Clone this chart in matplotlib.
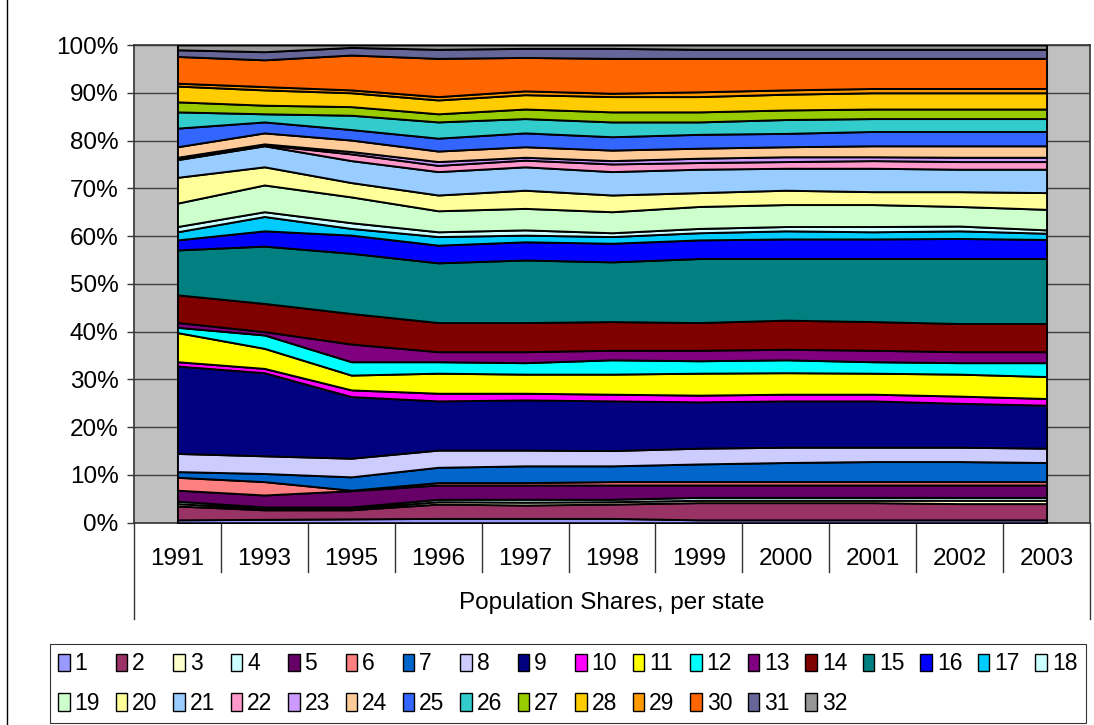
import numpy as np
import matplotlib
matplotlib.use("Agg")
import matplotlib.pyplot as plt
from matplotlib.patches import Patch
import matplotlib.transforms as mtransforms

plt.rcParams["font.family"] = ["Liberation Sans", "DejaVu Sans"]

years = ["1991", "1993", "1995", "1996", "1997", "1998", "1999", "2000", "2001", "2002", "2003"]
states = [str(i) for i in range(1, 33)]

# population share (%) of states 1..32, one list per year
y1991 = [0.6, 2.9, 0.5, 0.5, 2.3, 2.7, 1.2, 3.8, 18.3, 0.9, 6.1, 1.1, 1.0, 5.8, 9.4, 2.1,
         1.7, 1.1, 4.9, 5.4, 3.7, 0.3, 0.2, 2.2, 3.9, 3.4, 2.1, 3.3, 0.6, 5.6, 1.4, 1.0]
y1993 = [0.7, 2.0, 0.3, 0.3, 2.5, 2.8, 1.7, 3.7, 17.4, 0.9, 4.2, 2.8, 0.7, 5.9, 12.0, 3.2,
         3.0, 1.0, 5.6, 3.8, 4.4, 0.2, 0.2, 2.3, 2.3, 1.7, 1.8, 3.2, 0.7, 5.6, 1.7, 1.4]
y1995 = [0.8, 1.9, 0.3, 0.3, 3.4, 0.1, 2.8, 3.9, 12.9, 1.4, 3.1, 2.8, 3.7, 6.4, 12.6, 3.8,
         1.4, 1.2, 5.4, 3.0, 4.6, 1.4, 0.5, 2.4, 2.2, 3.0, 1.8, 2.9, 0.6, 7.3, 1.6, 0.5]
y1996 = [0.9, 3.0, 0.5, 0.5, 3.0, 0.5, 3.2, 3.6, 10.3, 1.6, 4.2, 2.4, 2.1, 6.1, 12.5, 3.7,
         1.8, 1.0, 4.4, 3.3, 4.9, 1.3, 0.8, 2.2, 2.7, 3.4, 1.7, 2.9, 0.7, 8.0, 1.9, 0.9]
y1997 = [0.9, 2.8, 0.6, 0.6, 3.0, 0.5, 3.5, 3.3, 10.5, 1.4, 4.0, 2.4, 2.3, 6.1, 13.1, 3.8,
         1.4, 1.1, 4.5, 3.8, 4.9, 1.4, 0.6, 2.2, 2.9, 3.0, 2.0, 3.0, 0.8, 7.0, 1.9, 0.7]
y1998 = [0.9, 3.0, 0.5, 0.5, 3.0, 0.7, 3.3, 3.2, 10.4, 1.4, 4.2, 3.0, 2.0, 6.0, 12.5, 3.9,
         1.4, 0.8, 4.4, 3.5, 4.9, 1.6, 0.7, 2.2, 2.8, 3.1, 2.1, 3.2, 0.7, 7.3, 2.1, 0.7]
y1999 = [0.6, 3.6, 0.5, 0.6, 2.6, 0.7, 3.7, 3.3, 9.7, 1.4, 4.6, 2.6, 2.2, 5.8, 13.4, 3.9,
         1.5, 0.9, 4.6, 2.9, 4.9, 1.4, 0.9, 2.1, 2.9, 2.6, 2.1, 3.2, 1.0, 7.0, 1.9, 0.9]
y2000 = [0.6, 3.6, 0.5, 0.6, 2.6, 0.7, 4.0, 3.2, 9.7, 1.4, 4.5, 2.7, 2.2, 6.1, 12.9, 4.1,
         1.7, 0.9, 4.6, 3.0, 4.6, 1.4, 1.0, 2.1, 2.8, 2.9, 2.0, 3.3, 0.9, 6.6, 1.9, 0.9]
y2001 = [0.6, 3.6, 0.5, 0.6, 2.6, 0.7, 4.2, 3.0, 9.7, 1.4, 4.4, 2.4, 2.4, 6.0, 13.2, 4.1,
         1.5, 1.1, 4.6, 2.7, 4.9, 1.6, 0.8, 2.3, 3.0, 2.7, 2.0, 3.4, 0.9, 6.3, 1.9, 0.9]
y2002 = [0.6, 3.4, 0.7, 0.6, 2.6, 0.7, 4.2, 3.0, 9.2, 1.5, 4.6, 2.4, 2.3, 5.9, 13.6, 4.2,
         1.6, 1.0, 4.1, 3.1, 4.7, 1.6, 0.9, 2.4, 3.0, 2.7, 2.0, 3.4, 0.9, 6.3, 1.9, 0.9]
y2003 = [0.6, 3.4, 0.7, 0.6, 2.6, 0.7, 4.0, 3.0, 9.0, 1.4, 4.6, 2.9, 2.3, 5.9, 13.6, 4.0,
         1.3, 0.7, 4.3, 3.5, 4.9, 1.6, 0.9, 2.4, 3.0, 2.7, 2.0, 3.4, 0.9, 6.3, 1.9, 0.9]

colors = ["#9999FF", "#993366", "#FFFFCC", "#CCFFFF", "#660066", "#FF8080", "#0066CC", "#CCCCFF",
          "#000080", "#FF00FF", "#FFFF00", "#00FFFF", "#800080", "#800000", "#008080", "#0000FF",
          "#00CCFF", "#CCFFFF", "#CCFFCC", "#FFFF99", "#99CCFF", "#FF99CC", "#CC99FF", "#FFCC99",
          "#3366FF", "#33CCCC", "#99CC00", "#FFCC00", "#FF9900", "#FF6600", "#666699", "#969696"]

data = np.array([y1991, y1993, y1995, y1996, y1997, y1998, y1999, y2000, y2001, y2002, y2003]).T
data = data / data.sum(axis=0) * 100  # 100% stacked
x = np.arange(len(years))

W, H = 1094, 725
fig = plt.figure(figsize=(W / 100, H / 100), dpi=100)
left, right, top, bottom = 134, 1090, 45, 522.7
ax = fig.add_axes([left / W, 1 - bottom / H, (right - left) / W, (bottom - top) / H])
ax.set_facecolor("#C0C0C0")

polys = ax.stackplot(x, data, colors=colors, edgecolor="black", linewidth=1.4, zorder=3)

ax.set_xlim(-0.5, len(years) - 0.5)
ax.set_ylim(0, 100)
ax.set_yticks(np.arange(0, 101, 10))
ax.set_yticklabels([f"{v}%" for v in range(0, 101, 10)], fontsize=17.5)
ax.yaxis.grid(True, color="#404040", linewidth=1.0, zorder=1)
ax.set_axisbelow(True)
ax.tick_params(axis="y", length=5, width=1, pad=6, colors="#333333", labelcolor="black")

ax.set_xticks(x)
ax.set_xticklabels(years, fontsize=17.5)
ax.tick_params(axis="x", length=0, pad=18)

for s in ax.spines.values():
    s.set_color("#333333")
    s.set_linewidth(1.2)

# category dividers and outer level lines
trans = mtransforms.blended_transform_factory(ax.transData, ax.transAxes)
h_px = bottom - top
for b in np.arange(0.5, len(years) - 0.5, 1):
    ax.plot([b, b], [0, -(572 - bottom) / h_px], transform=trans, color="#333333",
            linewidth=1.0, clip_on=False)
for b in [-0.5, len(years) - 0.5]:
    ax.plot([b, b], [0, -(619 - bottom) / h_px], transform=trans, color="#333333",
            linewidth=1.0, clip_on=False)
ax.text(0.5, -(603 - bottom) / h_px, "Population Shares, per state", transform=ax.transAxes,
        ha="center", va="center", fontsize=17.5)

# legend, filled row by row
handles = [Patch(facecolor=c, edgecolor="black", linewidth=1.0) for c in colors]
order = []
for j in range(18):
    order.append(j)
    if j + 18 < 32:
        order.append(j + 18)
leg = fig.legend([handles[i] for i in order], [states[i] for i in order], ncol=18,
                 loc="upper left", bbox_to_anchor=(50 / W, 1 - 644 / H), fontsize=16.5,
                 handlelength=0.5, handleheight=0.8, handletextpad=0.22, columnspacing=0.68,
                 labelspacing=0.72, borderpad=0.36, borderaxespad=0, fancybox=False,
                 frameon=True)
leg.get_frame().set_edgecolor("black")
leg.get_frame().set_linewidth(0.8)

fig.add_artist(plt.Line2D([7 / W, 7 / W], [0, 1], transform=fig.transFigure, color="black",
                          linewidth=1.0))

fig.savefig("out.png", dpi=100)
